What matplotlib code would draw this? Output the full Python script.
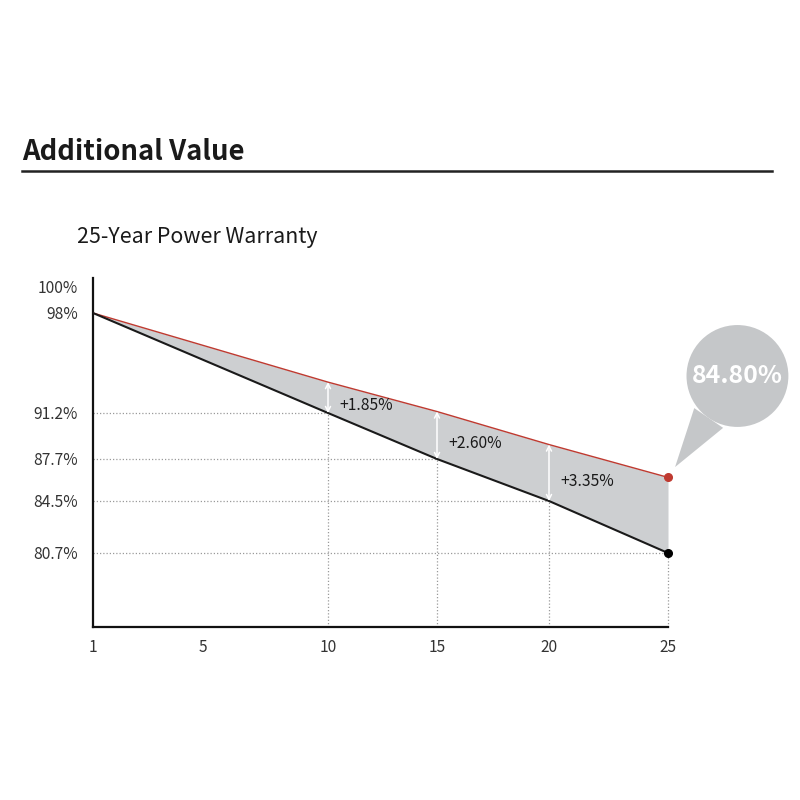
import numpy as np
import matplotlib
matplotlib.use("Agg")
import matplotlib.pyplot as plt
from matplotlib.lines import Line2D

plt.rcParams['font.family'] = ['Noto Sans CJK SC', 'DejaVu Sans']

# ---------------- data ----------------
years = [1, 10, 15, 20, 25]
standard = [98.0, 91.2, 87.7, 84.5, 80.7]      # black line (standard warranty)
enhanced = [98.0, 93.3, 91.3, 88.8, 86.3]      # red line (as drawn)
gain_years = [10, 15, 20]
gain_labels = ["+1.85%", "+2.60%", "+3.35%"]
final_label = "84.80%"
y_ticks = [80.7, 84.5, 87.7, 91.2, 98, 100]
y_ticklabels = ["80.7%", "84.5%", "87.7%", "91.2%", "98%", "100%"]
x_ticks = [1, 5, 10, 15, 20, 25]
x_ticklabels = ["1", "5", "10", "15", "20", "25"]
title = "Additional Value"
subtitle = "25-Year Power Warranty"

# ---------------- scale (the reference axes are hand spaced) ----------------
x_anchor_pos = [93, 203, 328, 437, 549, 668]
y_anchor_pos = [-553, -501, -459, -413, -313, -287]


def piecewise(d, p):
    d = np.asarray(d, float)
    p = np.asarray(p, float)

    def mk(a, b):
        s0 = (b[1] - b[0]) / (a[1] - a[0])
        s1 = (b[-1] - b[-2]) / (a[-1] - a[-2])

        def f(v):
            v = np.asarray(v, float)
            out = np.interp(v, a, b)
            out = np.where(v < a[0], b[0] + (v - a[0]) * s0, out)
            out = np.where(v > a[-1], b[-1] + (v - a[-1]) * s1, out)
            return out
        return f
    return mk(d, p), mk(p, d)


fx, fxi = piecewise(x_ticks, x_anchor_pos)
fy, fyi = piecewise(y_ticks, y_anchor_pos)

fig = plt.figure(figsize=(8, 8), dpi=100)
fig.patch.set_facecolor("white")
ax = fig.add_axes([93 / 800, 173 / 800, 575 / 800, 349 / 800])
ax.set_xscale("function", functions=(fx, fxi))
ax.set_yscale("function", functions=(fy, fyi))
ax.set_xlim(1, 25)
ax.set_ylim(float(fyi(-627)), float(fyi(-278)))

RED = "#bf3a30"
GRAY_FILL = "#cdcfd1"
GRID = "#9a9a9a"

# fill between
ax.fill_between(years, standard, enhanced, color=GRAY_FILL, lw=0, zorder=1)

# drop lines
ybot = ax.get_ylim()[0]
for x, y in zip(years[1:], standard[1:]):
    ax.plot([1, x], [y, y], color=GRID, lw=0.9, ls=(0, (1, 1.6)), zorder=0.5,
            clip_on=False)
    ax.plot([x, x], [ybot, y], color=GRID, lw=0.9, ls=(0, (1, 1.6)), zorder=0.5,
            clip_on=False)

# lines
ax.plot(years, enhanced, color=RED, lw=1.0, zorder=3)
ax.plot(years, standard, color="#1a1a1a", lw=1.5, zorder=3)

# end points
ax.plot([years[-1]], [enhanced[-1]], "o", color=RED, ms=5.5, zorder=5, clip_on=False)
ax.plot([years[-1]], [standard[-1]], "o", color="black", ms=5.5, zorder=5, clip_on=False)

# gain arrows and labels
for gy, lab in zip(gain_years, gain_labels):
    i = years.index(gy)
    ax.annotate("", xy=(gy, enhanced[i]), xytext=(gy, standard[i]),
                arrowprops=dict(arrowstyle="<->,head_length=0.35,head_width=0.18",
                                color="white", lw=1.1, shrinkA=0, shrinkB=0),
                zorder=4)
    ymid_pix = (fy(enhanced[i]) + fy(standard[i])) / 2
    ax.annotate(lab, xy=(gy, float(fyi(ymid_pix))), xytext=(8, -6),
                textcoords="offset points", ha="left", va="center",
                fontsize=11.3, color="#1a1a1a", zorder=6)

# speech bubble
ax.annotate(final_label, xy=(years[-1], enhanced[-1]), xytext=(50, 73),
            textcoords="offset points", ha="center", va="center",
            fontsize=18, fontweight="bold", color="white",
            bbox=dict(boxstyle="circle,pad=0.22", fc="#c5c7c9", ec="none"),
            arrowprops=dict(arrowstyle="wedge,tail_width=1.4,shrink_factor=0.5",
                            fc="#c5c7c9", ec="none", shrinkA=0, shrinkB=9,
                            connectionstyle="arc3,rad=0.0"),
            annotation_clip=False, zorder=6)

# axes styling
for s in ["top", "right"]:
    ax.spines[s].set_visible(False)
for s in ["left", "bottom"]:
    ax.spines[s].set_linewidth(1.6)
    ax.spines[s].set_color("#111111")
ax.set_xticks(x_ticks)
ax.set_xticklabels(x_ticklabels)
ax.set_yticks(y_ticks)
ax.set_yticklabels(y_ticklabels)
ax.minorticks_off()
ax.tick_params(axis="both", length=0, labelsize=11.2, labelcolor="#333333")
ax.tick_params(axis="x", pad=9)
ax.tick_params(axis="y", pad=11)

# titles
fig.text(22 / 800, 1 - 160 / 800, title, fontsize=19.8, fontweight="bold",
         color="#1a1a1a", ha="left", va="baseline")
fig.add_artist(Line2D([22 / 800, 772 / 800], [1 - 171 / 800, 1 - 171 / 800],
                      color="#222222", lw=1.8, transform=fig.transFigure))
fig.text(77 / 800, 1 - 243 / 800, subtitle, fontsize=15.4,
         color="#1a1a1a", ha="left", va="baseline")

fig.savefig("out.png", dpi=100, facecolor="white")
